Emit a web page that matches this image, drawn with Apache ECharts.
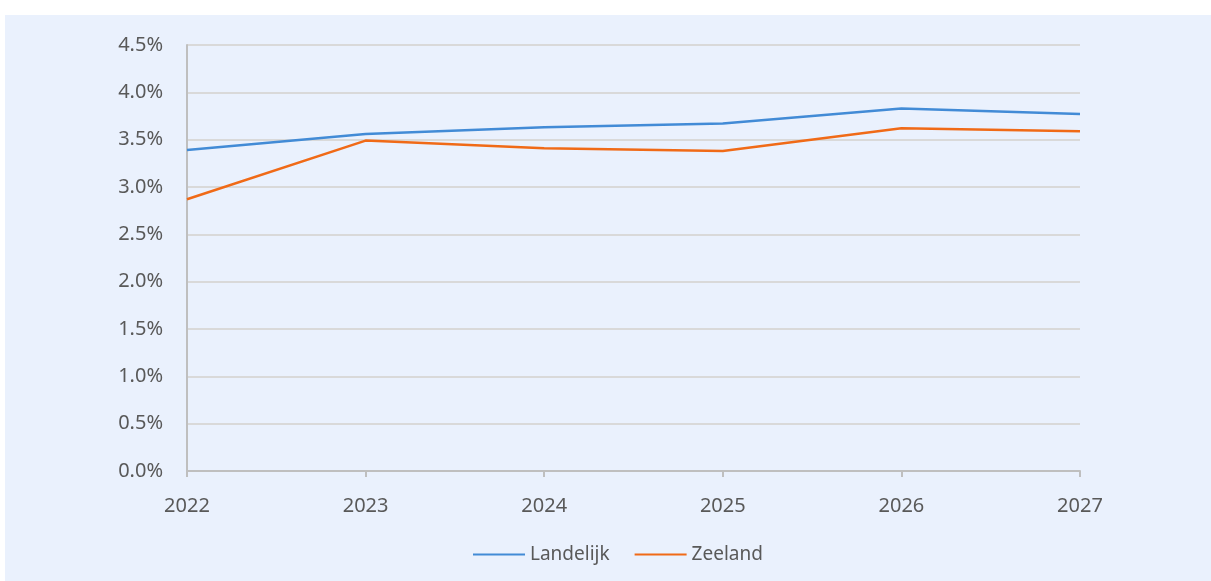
<!DOCTYPE html>
<html>
<head>
<meta charset="utf-8">
<script src="https://cdn.jsdelivr.net/npm/echarts@6/dist/echarts.min.js"></script>
<style>
  html, body { margin: 0; padding: 0; background: #ffffff; }
  #panel { position: absolute; left: 5px; top: 15px; width: 1206px; height: 566px; background: #EAF1FD; }
  #chart { position: absolute; left: 0; top: 0; width: 1211px; height: 581px; }
</style>
</head>
<body>
<div id="panel"></div>
<div id="chart"></div>
<script>
const years = ['2022', '2023', '2024', '2025', '2026', '2027'];
const landelijk = [3.39, 3.56, 3.63, 3.67, 3.83, 3.77];
const zeeland = [2.87, 3.49, 3.41, 3.38, 3.62, 3.59];
const yTicks = [0, 0.5, 1.0, 1.5, 2.0, 2.5, 3.0, 3.5, 4.0, 4.5];

const font = '"Noto Sans", "Open Sans", sans-serif';
const chart = echarts.init(document.getElementById('chart'));
chart.setOption({
  backgroundColor: 'transparent',
  animation: false,
  textStyle: { fontFamily: font },
  grid: { left: 187, right: 131, top: 45, bottom: 110, containLabel: false },
  xAxis: {
    type: 'category',
    data: years,
    boundaryGap: false,
    axisLine: { show: true, lineStyle: { color: '#BFBFBF', width: 2 } },
    axisTick: { show: true, length: 6, lineStyle: { color: '#BFBFBF', width: 2 } },
    axisLabel: { color: '#595959', fontSize: 20, margin: 25, fontFamily: font },
    splitLine: { show: false }
  },
  yAxis: {
    type: 'value',
    min: yTicks[0],
    max: yTicks[yTicks.length - 1],
    interval: 0.5,
    axisLine: { show: true, lineStyle: { color: '#BFBFBF', width: 2 } },
    axisTick: { show: false },
    axisLabel: { color: '#595959', fontSize: 20, margin: 24, fontFamily: font,
      formatter: v => v.toFixed(1) + '%' },
    splitLine: { show: true, lineStyle: { color: '#D9D9D9', width: 2 } }
  },
  legend: {
    left: 468,
    top: 540,
    icon: 'rect',
    itemWidth: 52,
    itemHeight: 2,
    itemGap: 25,
    textStyle: { color: '#595959', fontSize: 19, fontFamily: font },
    data: ['Landelijk', 'Zeeland']
  },
  series: [
    { name: 'Landelijk', type: 'line', data: landelijk, symbol: 'none',
      lineStyle: { color: '#428BD6', width: 2.5 }, itemStyle: { color: '#428BD6' } },
    { name: 'Zeeland', type: 'line', data: zeeland, symbol: 'none',
      lineStyle: { color: '#F06A17', width: 2.5 }, itemStyle: { color: '#F06A17' } }
  ]
});
</script>
</body>
</html>
